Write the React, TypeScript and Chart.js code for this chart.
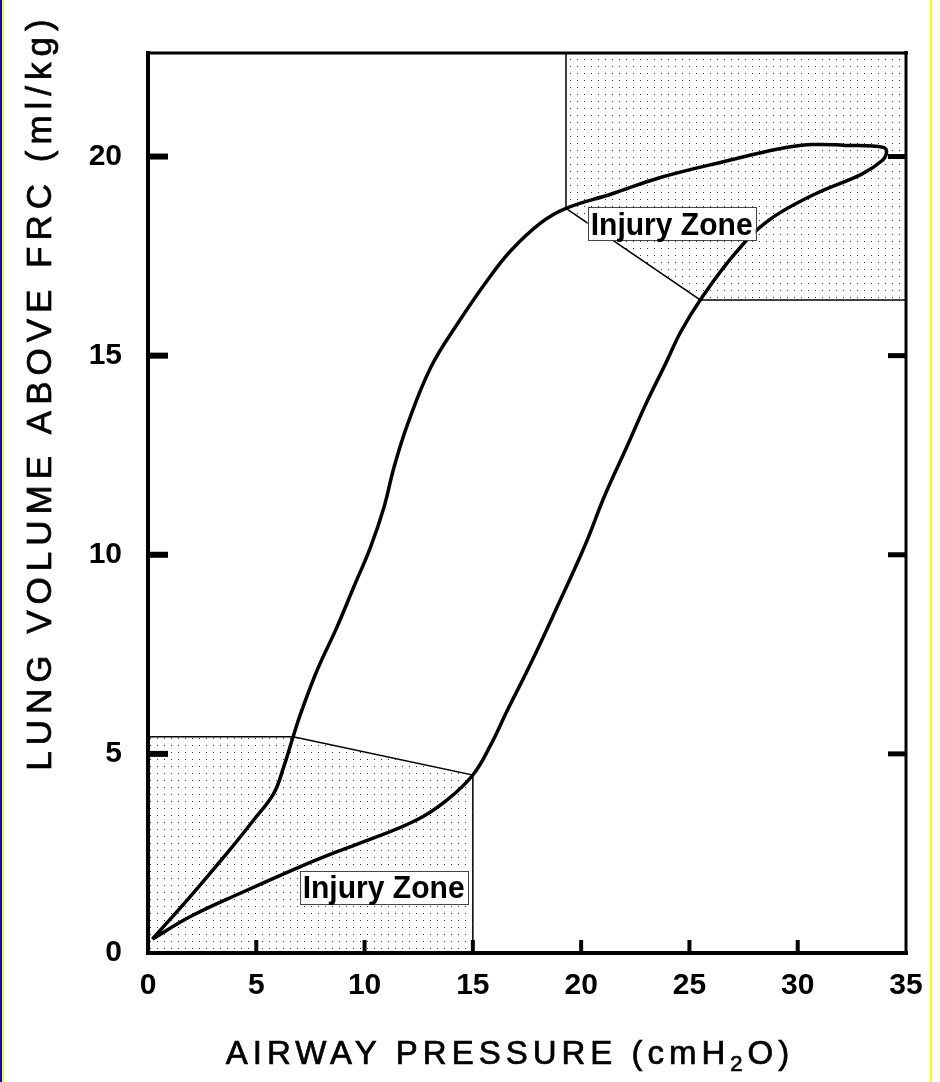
import React, { useEffect, useRef } from 'react';
import { Chart, registerables } from 'chart.js';

Chart.register(...registerables);

// Inflation limb (lower branch), from FRC to peak pressure
const inflationPressure = [0.2, 1.94, 4.26, 7.04, 8.9, 10.0, 12.4, 13.8, 15.0, 15.8, 16.6, 17.7, 18.9, 20.15, 21.1, 22.1, 23.0, 23.9, 24.6, 25.5, 27.1, 28.64, 30.8, 32.96, 33.9, 34.1];
const inflationVolume = [0.35, 0.91, 1.5, 2.17, 2.58, 2.8, 3.34, 3.84, 4.47, 5.2, 6.1, 7.3, 8.7, 10.2, 11.5, 12.7, 13.8, 14.8, 15.6, 16.4, 17.56, 18.39, 19.06, 19.56, 19.9, 20.1];
// Deflation limb (upper branch), from peak back to FRC
const deflationPressure = [33.96, 32.2, 30.65, 29.1, 26.8, 23.7, 21.4, 19.3, 18.15, 16.76, 15.68, 14.29, 13.06, 12.0, 11.36, 10.9, 10.28, 9.5, 8.73, 7.81, 7.04, 6.7, 6.27, 5.8, 4.88, 3.64, 1.94, 0.2];
const deflationVolume = [20.23, 20.28, 20.3, 20.19, 19.9, 19.48, 19.06, 18.7, 18.34, 17.64, 16.9, 15.8, 14.71, 13.3, 12.2, 11.2, 10.2, 9.19, 8.19, 7.1, 6.0, 5.43, 4.68, 4.0, 3.34, 2.5, 1.41, 0.35];

// Injury zones (polygon outlines)
const upperZonePressure = [19.3, 35, 35, 25.5, 19.3, 19.3];
const upperZoneVolume = [22.6, 22.6, 16.4, 16.4, 18.7, 22.6];
const lowerZonePressure = [0, 0, 6.7, 15, 15, 0];
const lowerZoneVolume = [0, 5.43, 5.43, 4.47, 0, 0];

// Zone labels
const zoneLabels = ['Injury Zone', 'Injury Zone'];
const zoneLabelPressure = [24.18, 10.88];
const zoneLabelVolume = [18.31, 1.65];

// Axes
const xTicks = [0, 5, 10, 15, 20, 25, 30, 35];
const yTicks = [0, 5, 10, 15, 20];
const xMin = 0;
const xMax = 35;
const yMin = 0;
const yMax = 22.6;
const xTitleParts = ['AIRWAY PRESSURE (cmH', '2', 'O)'];
const yTitle = 'LUNG VOLUME ABOVE FRC (ml/kg)';

const toPoints = (xs: number[], ys: number[]) => xs.map((x, i) => ({ x, y: ys[i] }));

function makePattern(): CanvasPattern | string {
  const c = document.createElement('canvas');
  c.width = 7;
  c.height = 7;
  const g = c.getContext('2d');
  if (!g) return '#eee';
  g.fillStyle = '#ffffff';
  g.fillRect(0, 0, 7, 7);
  g.fillStyle = '#333333';
  g.fillRect(3, 3, 1, 1);
  const p = g.createPattern(c, 'repeat');
  return p || '#eee';
}

const decorPlugin = {
  id: 'decor',
  afterDatasetsDraw(chart: any) {
    const { ctx, chartArea: a, scales } = chart;
    const x = scales.x;
    const y = scales.y;
    ctx.save();
    // zone label boxes
    ctx.font = 'bold 32px "Liberation Sans", Arial, sans-serif';
    ctx.textAlign = 'center';
    ctx.textBaseline = 'alphabetic';
    zoneLabels.forEach((t, i) => {
      const cx = x.getPixelForValue(zoneLabelPressure[i]);
      const cy = y.getPixelForValue(zoneLabelVolume[i]);
      const maxW = 162;
      const w = Math.min(ctx.measureText(t).width, maxW) + 6;
      const h = 33;
      ctx.fillStyle = '#ffffff';
      ctx.fillRect(cx - w / 2, cy - h / 2, w, h);
      ctx.strokeStyle = '#444';
      ctx.lineWidth = 1;
      ctx.strokeRect(Math.round(cx - w / 2) + 0.5, Math.round(cy - h / 2) + 0.5, Math.round(w), h);
      ctx.fillStyle = '#000';
      ctx.fillText(t, cx, cy + 11, maxW);
    });

    // frame
    ctx.fillStyle = '#000';
    ctx.fillRect(a.left - 2, a.top - 2, 4, a.bottom - a.top + 4);
    ctx.fillRect(a.left - 2, a.bottom - 2, a.right - a.left + 4, 4);
    ctx.fillRect(a.left - 2, a.top - 1.5, a.right - a.left + 4, 3);
    ctx.fillRect(a.right - 1.5, a.top - 2, 3, a.bottom - a.top + 4);

    // ticks (inward)
    yTicks.forEach((v) => {
      if (v === yMin) return;
      const py = y.getPixelForValue(v);
      ctx.fillRect(a.left, py - 3, 20, 6);
      ctx.fillRect(a.right - 18, py - 2.5, 18, 5);
    });
    xTicks.forEach((v) => {
      if (v === xMin || v === xMax) return;
      const px = x.getPixelForValue(v);
      ctx.fillRect(px - 2, a.bottom - 13, 4, 13);
    });
    ctx.restore();
  },
  afterDraw(chart: any) {
    const { ctx } = chart;
    ctx.save();
    ctx.fillStyle = '#000';
    ctx.strokeStyle = '#000';
    ctx.lineWidth = 0.7;
    ctx.textBaseline = 'alphabetic';
    ctx.textAlign = 'left';
    // x title
    const big = '33px "Liberation Sans", Arial, sans-serif';
    const small = '22px "Liberation Sans", Arial, sans-serif';
    (ctx as any).letterSpacing = '5px';
    ctx.font = big;
    const w0 = ctx.measureText(xTitleParts[0]).width;
    const w2 = ctx.measureText(xTitleParts[2]).width;
    ctx.font = small;
    const w1 = ctx.measureText(xTitleParts[1]).width;
    const total = w0 + w1 + w2;
    let sx = 510 - total / 2;
    const by = 1064;
    const draw = (t: string, px: number, py: number) => {
      ctx.fillText(t, px, py);
      ctx.strokeText(t, px, py);
    };
    ctx.font = big;
    draw(xTitleParts[0], sx, by);
    sx += w0;
    ctx.font = small;
    draw(xTitleParts[1], sx, by + 7);
    sx += w1;
    ctx.font = big;
    draw(xTitleParts[2], sx, by);

    // y title
    (ctx as any).letterSpacing = '6px';
    ctx.font = '35px "Liberation Sans", Arial, sans-serif';
    ctx.translate(51, 392);
    ctx.rotate(-Math.PI / 2);
    ctx.textAlign = 'center';
    draw(yTitle, 0, 0);
    ctx.restore();
  },
};

export default function App() {
  const ref = useRef<HTMLCanvasElement | null>(null);

  useEffect(() => {
    document.body.style.margin = '0';
    const canvas = ref.current;
    if (!canvas) return;
    const pattern = makePattern();
    const loop = [
      ...toPoints(inflationPressure, inflationVolume),
      ...toPoints(deflationPressure, deflationVolume),
    ];
    const tickFont = { family: '"Liberation Sans", Arial, sans-serif', size: 30, weight: 'bold' as const };
    const chart = new Chart(canvas, {
      type: 'scatter',
      data: {
        datasets: [
          {
            label: 'P-V loop',
            data: loop,
            showLine: true,
            borderColor: '#000',
            borderWidth: 3.5,
            pointRadius: 0,
            tension: 0.4,
            fill: false,
            order: 0,
          },
          {
            label: 'Upper injury zone',
            data: toPoints(upperZonePressure, upperZoneVolume),
            showLine: true,
            borderColor: '#000',
            borderWidth: 1.5,
            backgroundColor: pattern as any,
            fill: 'shape',
            pointRadius: 0,
            tension: 0,
            order: 1,
          },
          {
            label: 'Lower injury zone',
            data: toPoints(lowerZonePressure, lowerZoneVolume),
            showLine: true,
            borderColor: '#000',
            borderWidth: 1.5,
            backgroundColor: pattern as any,
            fill: 'shape',
            pointRadius: 0,
            tension: 0,
            order: 1,
          },
        ],
      },
      options: {
        animation: false,
        responsive: false,
        maintainAspectRatio: false,
        layout: { padding: { top: 53, right: 34, left: 0, bottom: 0 } },
        plugins: {
          legend: { display: false },
          tooltip: { enabled: false },
          title: { display: false },
        },
        scales: {
          x: {
            type: 'linear',
            min: xMin,
            max: xMax,
            grid: { display: false, drawTicks: false },
            border: { display: false },
            ticks: {
              stepSize: 5,
              color: '#000',
              font: tickFont,
              padding: 15,
              maxRotation: 0,
            },
            afterBuildTicks: (s: any) => {
              s.ticks = xTicks.map((v) => ({ value: v }));
            },
            afterFit: (s: any) => {
              s.height = 129;
            },
          },
          y: {
            type: 'linear',
            min: yMin,
            max: yMax,
            grid: { display: false, drawTicks: false },
            border: { display: false },
            ticks: {
              stepSize: 5,
              color: '#000',
              font: tickFont,
              padding: 26,
            },
            afterBuildTicks: (s: any) => {
              s.ticks = yTicks.map((v) => ({ value: v }));
            },
            afterFit: (s: any) => {
              s.width = 148;
            },
          },
        },
      },
      plugins: [decorPlugin],
    });
    return () => chart.destroy();
  }, []);

  return (
    <div style={{ position: 'absolute', left: 0, top: 0, width: 940, height: 1082, background: '#fff' }}>
      <canvas ref={ref} width={940} height={1082} style={{ display: 'block', width: 940, height: 1082 }} />
      <div style={{ position: 'absolute', left: 0, top: 0, width: 2, height: 1082, background: '#0000ff' }} />
      <div style={{ position: 'absolute', left: 2, top: 0, width: 2, height: 1082, background: '#ffff00' }} />
      <div style={{ position: 'absolute', left: 930, top: 0, width: 2, height: 1082, background: '#ffff00' }} />
    </div>
  );
}
